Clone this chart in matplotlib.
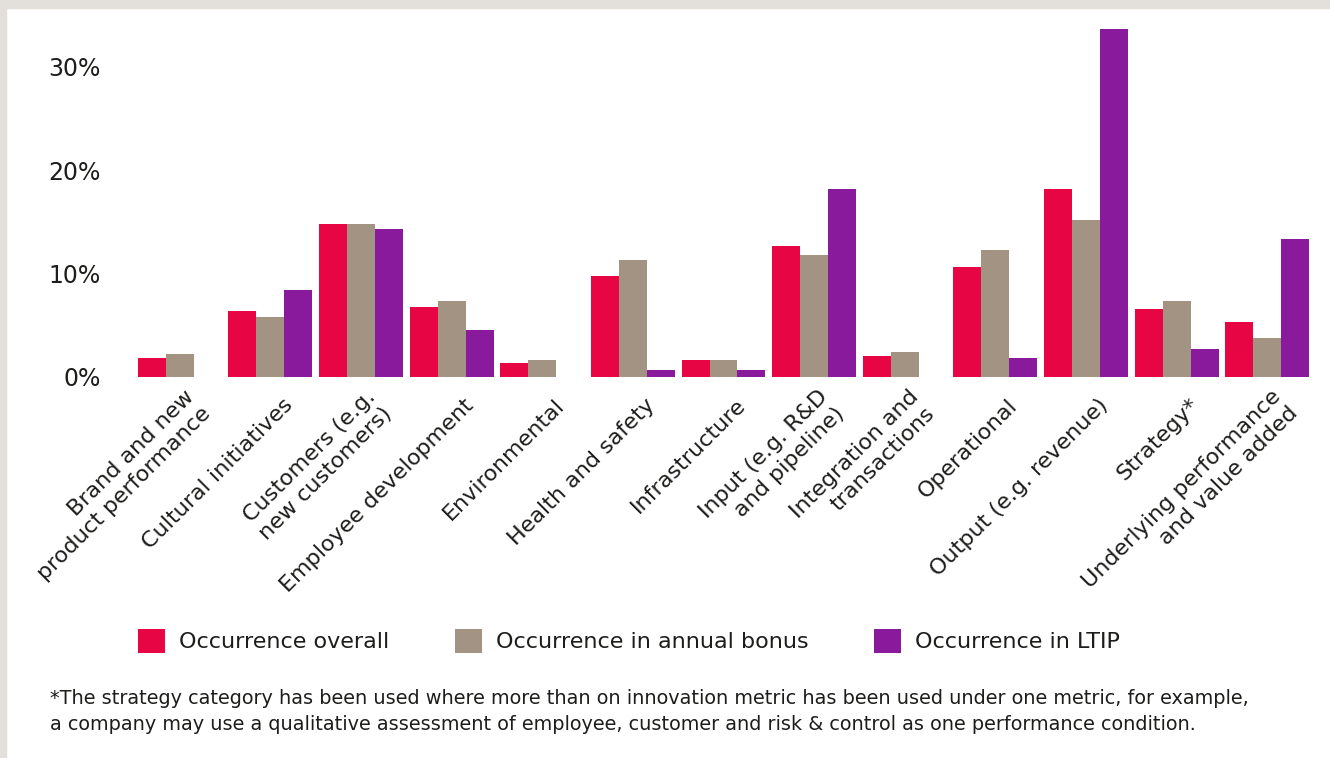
import numpy as np
import matplotlib
matplotlib.use("Agg")
import matplotlib.pyplot as plt
from matplotlib.patches import Rectangle
from matplotlib.transforms import ScaledTranslation

# layout defaults
plt.rcParams["font.family"] = "DejaVu Sans"
plt.rcParams["text.color"] = "#1d1d1b"
plt.rcParams["xtick.color"] = "#1d1d1b"
plt.rcParams["ytick.color"] = "#1d1d1b"

# data (percent of companies)
categories = [
    "Brand and new\nproduct performance",
    "Cultural initiatives",
    "Customers (e.g.\nnew customers)",
    "Employee development",
    "Environmental",
    "Health and safety",
    "Infrastructure",
    "Input (e.g. R&D\nand pipeline)",
    "Integration and\ntransactions",
    "Operational",
    "Output (e.g. revenue)",
    "Strategy*",
    "Underlying performance\nand value added",
]
overall = [1.8, 6.4, 14.8, 6.8, 1.4, 9.8, 1.6, 12.7, 2.0, 10.6, 18.2, 6.6, 5.3]
annual_bonus = [2.2, 5.8, 14.8, 7.3, 1.6, 11.3, 1.6, 11.8, 2.4, 12.3, 15.2, 7.3, 3.8]
ltip = [0.0, 8.4, 14.3, 4.5, 0.0, 0.7, 0.7, 18.2, 0.0, 1.8, 33.6, 2.7, 13.3]
series_names = ["Occurrence overall", "Occurrence in annual bonus", "Occurrence in LTIP"]
yticks = [0, 10, 20, 30]
footnote = [
    "*The strategy category has been used where more than on innovation metric has been used under one metric, for example,",
    "a company may use a qualitative assessment of employee, customer and risk & control as one performance condition.",
]

colors = ["#e80544", "#a39382", "#881a9b"]

W, H = 1330, 758
fig = plt.figure(figsize=(W / 100, H / 100), dpi=100)

# grey frame on the top and left edges
fig.patches.append(Rectangle((0, 0), 6 / W, 1, transform=fig.transFigure, color="#e3e0db", zorder=0))
fig.patches.append(Rectangle((0, 1 - 8 / H), 1, 8 / H, transform=fig.transFigure, color="#e3e0db", zorder=0))

ax = fig.add_axes([130 / W, (H - 377) / H, 1187 / W, (377 - 20) / H])

x = np.arange(len(categories))
width = 0.309
bars = []
for k, (vals, c) in enumerate(zip([overall, annual_bonus, ltip], colors)):
    b = ax.bar(x + (k - 1) * width, vals, width, color=c, linewidth=0, label=series_names[k])
    bars.append(b)

ax.set_xlim(-0.55, 12.55)
ax.set_ylim(0, 34.5)
ax.set_yticks(yticks, [f"{v}%" for v in yticks])
ax.tick_params(axis="y", length=0, pad=21, labelsize=17)
ax.set_xticks(x, categories, rotation=45, ha="right", va="center",
              rotation_mode="anchor", multialignment="right", fontsize=16)
ax.tick_params(axis="x", length=0, pad=18)
offset = ScaledTranslation(0.19, 0, fig.dpi_scale_trans)
for lab in ax.get_xticklabels():
    lab.set_transform(lab.get_transform() + offset)
for s in ax.spines.values():
    s.set_visible(False)

fig.legend(handles=bars, labels=series_names, loc="center left",
           bbox_to_anchor=(138 / W, 1 - 641 / H), ncol=3, frameon=False,
           fontsize=16, handlelength=1.22, handleheight=1.22,
           handletextpad=0.63, columnspacing=2.95, borderpad=0, borderaxespad=0)

fig.text(50 / W, 1 - 698 / H, footnote[0], fontsize=13.9, va="center")
fig.text(50 / W, 1 - 724 / H, footnote[1], fontsize=13.9, va="center")

fig.savefig("out.png", dpi=100, facecolor="white")
